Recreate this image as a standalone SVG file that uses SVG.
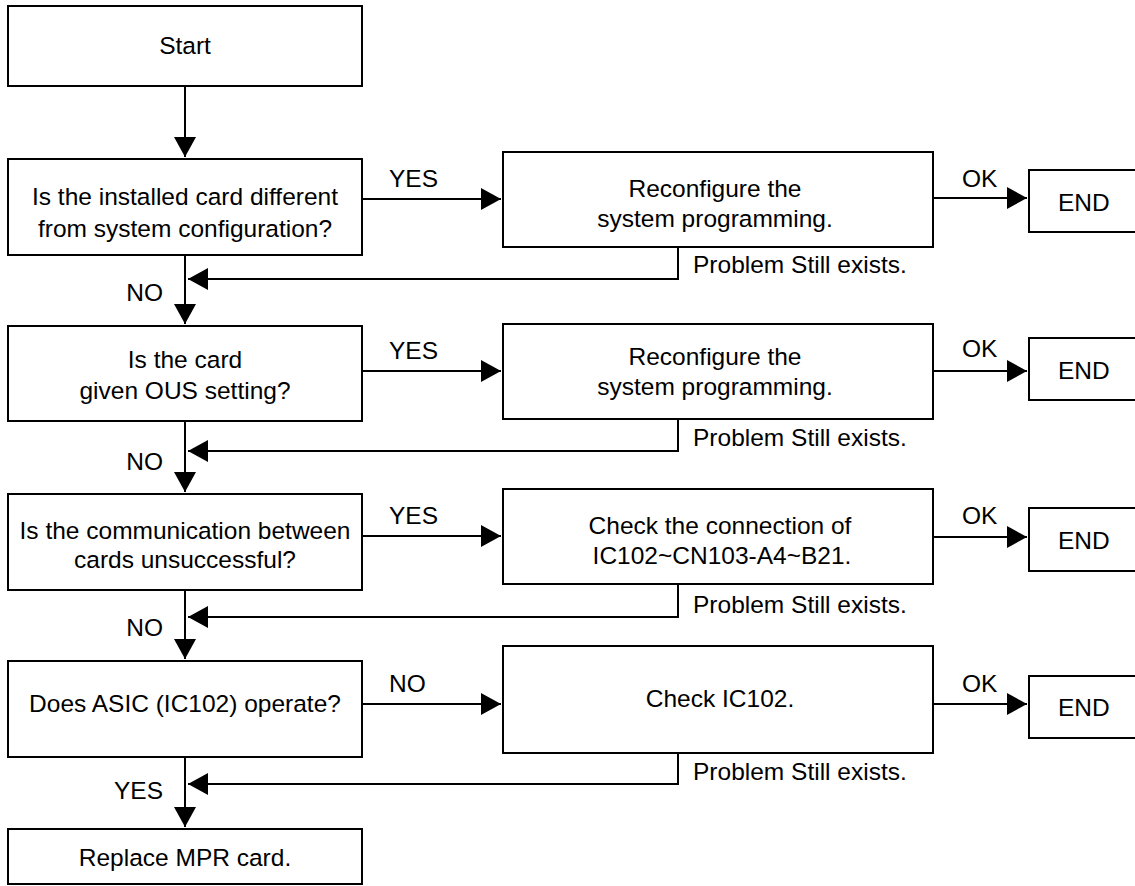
<svg xmlns="http://www.w3.org/2000/svg" width="1135" height="886" viewBox="0 0 1135 886">
<style>
rect{fill:#fff;stroke:#000;stroke-width:2}
text{font-family:"Liberation Sans",Arial,Helvetica,sans-serif;font-size:24.5px;fill:#000}
.c{text-anchor:middle}
.e{text-anchor:end}
.ln{fill:none;stroke:#000;stroke-width:2}
</style>
<defs>
<marker id="ah" markerUnits="userSpaceOnUse" markerWidth="22" markerHeight="24" refX="20" refY="11" orient="auto">
<path d="M0,0 L20,11 L0,22 Z" fill="#000"/>
</marker>
</defs>
<rect width="1135" height="886" style="fill:#fff;stroke:none"/>
<g id="connectors">
<path class="ln" d="M185,86 V157" marker-end="url(#ah)"/>
<path class="ln" d="M185,255 V324" marker-end="url(#ah)"/>
<path class="ln" d="M185,421 V492" marker-end="url(#ah)"/>
<path class="ln" d="M185,590 V659" marker-end="url(#ah)"/>
<path class="ln" d="M185,757 V827" marker-end="url(#ah)"/>
<path class="ln" d="M362,199 H501" marker-end="url(#ah)"/>
<path class="ln" d="M362,371 H501" marker-end="url(#ah)"/>
<path class="ln" d="M362,536 H501" marker-end="url(#ah)"/>
<path class="ln" d="M362,704 H501" marker-end="url(#ah)"/>
<path class="ln" d="M933,198 H1027" marker-end="url(#ah)"/>
<path class="ln" d="M933,371 H1027" marker-end="url(#ah)"/>
<path class="ln" d="M933,537 H1027" marker-end="url(#ah)"/>
<path class="ln" d="M933,704 H1027" marker-end="url(#ah)"/>
<path class="ln" d="M678,247 V279 H188" marker-end="url(#ah)"/>
<path class="ln" d="M678,419 V451 H188" marker-end="url(#ah)"/>
<path class="ln" d="M678,584 V617 H188" marker-end="url(#ah)"/>
<path class="ln" d="M678,753 V784 H188" marker-end="url(#ah)"/>
<text x="389" y="187">YES</text>
<text x="389" y="359">YES</text>
<text x="389" y="524">YES</text>
<text x="389" y="692">NO</text>
<text x="962" y="187">OK</text>
<text x="962" y="357">OK</text>
<text x="962" y="524">OK</text>
<text x="962" y="692">OK</text>
<text x="693" y="273">Problem Still exists.</text>
<text x="693" y="446">Problem Still exists.</text>
<text x="693" y="613">Problem Still exists.</text>
<text x="693" y="780">Problem Still exists.</text>
<text class="e" x="163" y="301">NO</text>
<text class="e" x="163" y="470">NO</text>
<text class="e" x="163" y="636">NO</text>
<text class="e" x="163" y="799">YES</text>
</g>
<g id="start"><rect x="8" y="6" width="354" height="80"/><text class="c" x="185" y="54">Start</text></g>
<g id="q1"><rect x="8" y="159" width="354" height="96"/><text class="c" x="185" y="205">Is the installed card different</text><text class="c" x="185" y="237">from system configuration?</text></g>
<g id="a1"><rect x="503" y="152" width="430" height="95"/><text class="c" x="715" y="197">Reconfigure the</text><text class="c" x="715" y="227">system programming.</text></g>
<g id="end1"><rect x="1029" y="170" width="120" height="62"/><text x="1058" y="211">END</text></g>
<g id="q2"><rect x="8" y="326" width="354" height="95"/><text class="c" x="185" y="368">Is the card</text><text class="c" x="185" y="399">given OUS setting?</text></g>
<g id="a2"><rect x="503" y="324" width="430" height="95"/><text class="c" x="715" y="365">Reconfigure the</text><text class="c" x="715" y="395">system programming.</text></g>
<g id="end2"><rect x="1029" y="338" width="120" height="62"/><text x="1058" y="379">END</text></g>
<g id="q3"><rect x="8" y="494" width="354" height="96"/><text class="c" x="185" y="539">Is the communication between</text><text class="c" x="185" y="568">cards unsuccessful?</text></g>
<g id="a3"><rect x="503" y="489" width="430" height="95"/><text class="c" x="720" y="534">Check the connection of</text><text class="c" x="722" y="564">IC102~CN103-A4~B21.</text></g>
<g id="end3"><rect x="1029" y="508" width="120" height="63"/><text x="1058" y="549">END</text></g>
<g id="q4"><rect x="8" y="661" width="354" height="96"/><text class="c" x="185" y="712">Does ASIC (IC102) operate?</text></g>
<g id="a4"><rect x="503" y="646" width="430" height="107"/><text class="c" x="720" y="707">Check IC102.</text></g>
<g id="end4"><rect x="1029" y="676" width="120" height="62"/><text x="1058" y="716">END</text></g>
<g id="replace"><rect x="8" y="829" width="354" height="55"/><text class="c" x="185" y="866">Replace MPR card.</text></g>
</svg>
